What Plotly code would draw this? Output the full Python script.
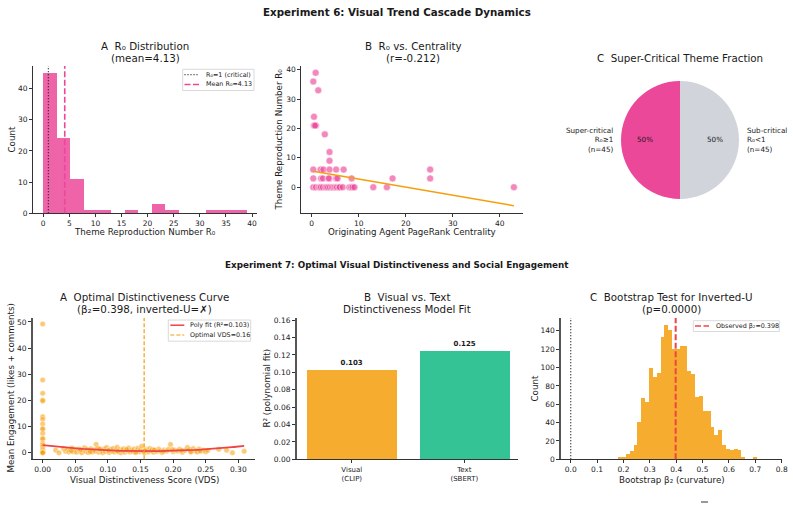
import numpy as np
import plotly.graph_objects as go

W, H = 793, 506
FONT = "DejaVu Sans"

# ---------------- data ----------------
# Panel 6A: R0 histogram (bin counts)
r0_bin_start = 0.0
r0_bin_width = 2.6
r0_bin_counts = [45, 24, 11, 1, 1, 0, 1, 0, 3, 1, 0, 0, 1, 1, 1]
r0_critical = 1.0
r0_mean = 4.13

# Panel 6B: centrality vs R0
cent_x = [0.85, 0.35, 1.4, 0.5, 0.5, 0.9, 0.7, 2.8, 3.8, 3.8,
          0.35, 1.9, 2.5, 3.8, 5.2, 6.8, 25.2,
          0.35, 2.0, 2.4, 3.8, 5.2, 5.5, 8.5, 17.2, 25.2, 3.6,
          0.35, 0.9, 1.5, 1.8, 2.0, 2.4, 2.9, 3.2, 3.5, 3.9, 4.3, 4.6, 4.9, 5.2,
          5.4, 5.8, 6.0, 6.6, 8.0, 8.4, 8.7, 9.1, 13.1, 16.0, 43.0]
cent_r0 = [39, 36, 33, 24, 21, 21, 21, 18, 12, 9,
           6, 6, 6, 6, 6, 6, 6,
           3, 3, 3, 3, 3, 3, 3, 3, 3, 3,
           0, 0, 0, 0, 0, 0, 0, 0, 0, 0, 0, 0, 0, 0,
           0, 0, 0, 0, 0, 0, 0, 0, 0, 0, 0]
fit_intercept = 5.5
fit_slope = -0.275
corr_r = -0.212

# Panel 6C: super-critical fraction
pie_labels = ["Super-critical", "Sub-critical"]
pie_conds = ["R₀≥1", "R₀<1"]
pie_counts = [45, 45]

# Panel 7A: VDS vs engagement
vds_x = [0.0] * 22 + [
    0.020, 0.025, 0.032, 0.035, 0.038, 0.040, 0.042, 0.045, 0.047, 0.050,
    0.052, 0.055, 0.057, 0.060, 0.062, 0.064, 0.066, 0.068, 0.070, 0.072,
    0.074, 0.076, 0.078, 0.080, 0.082, 0.084, 0.086, 0.088, 0.090, 0.092,
    0.094, 0.096, 0.098, 0.100, 0.102, 0.104, 0.106, 0.108, 0.110, 0.112,
    0.114, 0.116, 0.118, 0.120, 0.122, 0.124, 0.126, 0.128, 0.130, 0.132,
    0.134, 0.136, 0.138, 0.140, 0.142, 0.144, 0.146, 0.148, 0.150, 0.152,
    0.154, 0.156, 0.158, 0.160, 0.162, 0.164, 0.166, 0.168, 0.170, 0.172,
    0.175, 0.178, 0.180, 0.183, 0.186, 0.190, 0.193, 0.196, 0.200, 0.203,
    0.207, 0.210, 0.214, 0.218, 0.222, 0.225, 0.228, 0.231, 0.234, 0.237,
    0.240, 0.243, 0.246, 0.250, 0.253, 0.270, 0.282, 0.291, 0.309,
    0.044, 0.058, 0.073, 0.087, 0.101, 0.115, 0.129, 0.143, 0.157, 0.171,
    0.185, 0.199, 0.213, 0.227, 0.241]
vds_eng = [49.2, 27.8, 22.7, 20.2, 19.8, 13.8, 12.8, 11.0, 9.3, 9.0,
           7.4, 5.5, 5.3, 3.6, 3.0, 2.3, 1.5, 1.0, 0.5, 0.2, 0.0, 0.0] + [
    1.0, 0.0, 1.6, 0.6, 1.2, 0.3, 0.9, 1.8, 0.4, 1.1,
    0.2, 1.4, 0.7, 0.0, 1.0, 1.9, 0.5, 1.3, 0.1, 0.8,
    1.5, 0.3, 1.1, 0.6, 3.2, 1.7, 0.2, 1.2, 0.9, 0.0,
    1.4, 0.5, 2.0, 0.8, 0.1, 1.3, 0.6, 1.6, 0.3, 1.0,
    2.1, 0.4, 1.2, 0.0, 0.9, 1.5, 0.2, 1.1, 0.7, 1.8,
    0.3, 1.0, 0.5, 1.4, 0.1, 0.8, 1.7, 0.4, 1.1, 2.5,
    0.6, 0.0, 1.3, 0.9, 0.3, 1.6, 0.7, 1.2, 0.2, 1.0,
    0.5, 1.4, 0.8, 0.1, 1.1, 0.6, 1.3, 3.2, 0.4, 1.0,
    0.7, 1.3, 0.2, 0.9, 2.0, 1.2, 0.5, 1.6, 0.8, 0.3,
    1.4, 0.6, 1.0, 0.4, 0.9, 1.3, 1.0, 0.0, 0.6,
    0.7, 1.2, 0.4, 1.5, 0.9, 0.6, 1.3, 0.2, 0.8, 1.1,
    0.5, 1.2, 0.9, 0.3, 0.7]
poly_coef = [90.0, -28.8, 2.9]   # quadratic, highest power first
poly_r2 = 0.103
optimal_vds = 0.1556
beta2 = 0.398

# Panel 7B: model fit
model_names = ["Visual<br>(CLIP)", "Text<br>(SBERT)"]
model_r2 = [0.103, 0.125]

# Panel 7C: bootstrap distribution (bin counts)
boot_bin_start = 0.18
boot_bin_width = 0.0146
boot_counts = [2, 3, 6, 9, 16, 41, 67, 63, 100, 90, 94, 133, 146, 141, 120, 120,
               124, 124, 96, 93, 68, 69, 53, 53, 35, 26, 32, 16, 11, 10, 11, 10,
               2, 0, 0, 3]
p_value = 0.0

# ---------------- colours / sizes ----------------
PINK = "#EC4899"
PINK_A = "rgba(236,72,153,0.85)"
ORANGE = "#F59E0B"
ORANGE_A = "rgba(245,158,11,0.85)"
GREEN_A = "rgba(16,185,129,0.85)"
RED = "#EF4444"
GREY = "#D1D5DB"
TXT = "#1a1a1a"

SUP = 10.3
SUP2 = 8.8
TITLE = 10.3
LABEL = 8.7
TICK = 7.5
LEG = 6.4
SMALL = 7.2


def px_x(p):
    return p / W


def px_y(p):
    return 1 - p / H


fig = go.Figure()

# --- 6A histogram
r0_centers = [r0_bin_start + r0_bin_width * (i + 0.5) for i in range(len(r0_bin_counts))]
fig.add_trace(go.Bar(x=r0_centers, y=r0_bin_counts, width=r0_bin_width,
                     marker=dict(color=PINK_A, line=dict(width=0)),
                     xaxis="x", yaxis="y", showlegend=False))

# --- 6B scatter + fit
fig.add_trace(go.Scatter(x=cent_x, y=cent_r0, mode="markers",
                         marker=dict(size=7, color="rgba(236,72,153,0.65)",
                                     line=dict(color="rgba(255,255,255,0.9)", width=0.6)),
                         xaxis="x2", yaxis="y2", showlegend=False))
fx = np.array([min(cent_x), max(cent_x)])
fig.add_trace(go.Scatter(x=fx, y=fit_intercept + fit_slope * fx, mode="lines",
                         line=dict(color=ORANGE, width=1.5),
                         xaxis="x2", yaxis="y2", showlegend=False))

# --- 6C pie
pie_cx, pie_cy, pie_r = 680, 140, 59
fig.add_trace(go.Pie(values=pie_counts, labels=pie_labels, sort=False,
                     direction="clockwise", rotation=180,
                     marker=dict(colors=[PINK, GREY], line=dict(width=0)),
                     textinfo="none", hoverinfo="label+percent",
                     domain=dict(x=[px_x(pie_cx - pie_r), px_x(pie_cx + pie_r)],
                                 y=[px_y(pie_cy + pie_r), px_y(pie_cy - pie_r)]),
                     showlegend=False))

# --- 7A scatter + poly fit
fig.add_trace(go.Scatter(x=vds_x, y=vds_eng, mode="markers",
                         marker=dict(size=5.5, color="rgba(245,158,11,0.55)",
                                     line=dict(color="rgba(255,255,255,0.8)", width=0.5)),
                         xaxis="x3", yaxis="y3", showlegend=False))
px_curve = np.linspace(min(vds_x), max(vds_x), 100)
fig.add_trace(go.Scatter(x=px_curve, y=np.polyval(poly_coef, px_curve), mode="lines",
                         line=dict(color=RED, width=1.8),
                         xaxis="x3", yaxis="y3", showlegend=False))

# --- 7B bars
fig.add_trace(go.Bar(x=list(range(len(model_r2))), y=model_r2, width=0.8,
                     marker=dict(color=[ORANGE_A, GREEN_A], line=dict(width=0)),
                     texttemplate="<b>%{y:.3f}</b>", textposition="outside",
                     textfont=dict(size=7, color=TXT), cliponaxis=False,
                     xaxis="x4", yaxis="y4", showlegend=False))

# --- 7C bootstrap histogram
boot_centers = [boot_bin_start + boot_bin_width * (i + 0.5) for i in range(len(boot_counts))]
fig.add_trace(go.Bar(x=boot_centers, y=boot_counts, width=boot_bin_width,
                     marker=dict(color=ORANGE_A, line=dict(width=0)),
                     xaxis="x5", yaxis="y5", showlegend=False))

# --- reference lines
LINE_CRIT = dict(color="#222", width=1.3, dash="1px,2px")
LINE_MEAN = dict(color=PINK, width=1.6, dash="6px,2.5px")
LINE_POLY = dict(color=RED, width=1.8)
LINE_OPT = dict(color=ORANGE, width=1.2, dash="4px,2px")
LINE_OBS = dict(color=RED, width=2, dash="6px,2.5px")

shapes = []


def vline(xref, x, line):
    shapes.append(dict(type="line", xref=xref, yref=f"{xref.replace('x', 'y')} domain",
                       x0=x, x1=x, y0=0, y1=1, line=line, layer="above"))


vline("x", r0_critical, LINE_CRIT)
vline("x", r0_mean, LINE_MEAN)
vline("x3", optimal_vds, LINE_OPT)
vline("x5", 0, LINE_CRIT)
vline("x5", beta2, LINE_OBS)

# small mark at bottom edge
shapes.append(dict(type="line", xref="paper", yref="paper", x0=px_x(701), x1=px_x(708),
                   y0=px_y(502), y1=px_y(502), line=dict(color="#333", width=1)))


def axis(domain_px, rng, **kw):
    d = dict(domain=[px_x(domain_px[0]), px_x(domain_px[1])], range=rng,
             showline=True, linecolor="#333", linewidth=1, ticks="outside",
             ticklen=3, tickwidth=0.8, tickcolor="#333", showgrid=False,
             zeroline=False, automargin=False, tickfont=dict(size=TICK, color=TXT),
             fixedrange=True)
    d.update(kw)
    return d


def yaxis(domain_px, rng, anchor, **kw):
    d = dict(domain=[px_y(domain_px[1]), px_y(domain_px[0])], range=rng, anchor=anchor,
             showline=True, linecolor="#333", linewidth=1, ticks="outside",
             ticklen=3, tickwidth=0.8, tickcolor="#333", showgrid=False,
             zeroline=False, automargin=False, tickfont=dict(size=TICK, color=TXT),
             fixedrange=True)
    d.update(kw)
    return d


TOP = (66, 213.3)
BOT = (318, 459.3)

ann = []


def text(x, y, s, size, bold=False, **kw):
    d = dict(x=px_x(x), y=px_y(y), xref="paper", yref="paper", showarrow=False,
             text=f"<b>{s}</b>" if bold else s, font=dict(size=size, color=TXT, family=FONT),
             xanchor="center", yanchor="middle")
    d.update(kw)
    ann.append(d)


def legend_box(x0, y0, x1, y1, entries, row0, row_gap, sample_x0, sample_len, text_x):
    shapes.append(dict(type="rect", xref="paper", yref="paper",
                       x0=px_x(x0), x1=px_x(x1), y0=px_y(y1), y1=px_y(y0),
                       line=dict(color="#d0d0d0", width=0.8),
                       fillcolor="rgba(255,255,255,0.85)", layer="above"))
    for i, (label, line) in enumerate(entries):
        yy = row0 + i * row_gap
        ln = dict(line)
        ln["width"] = min(ln.get("width", 1.5), 1.5)
        shapes.append(dict(type="line", xref="paper", yref="paper",
                           x0=px_x(sample_x0), x1=px_x(sample_x0 + sample_len),
                           y0=px_y(yy), y1=px_y(yy), line=ln, layer="above"))
        text(text_x, yy, label, LEG, xanchor="left")


NB = "\u00a0"
# legends
legend_box(182.7, 69.3, 254, 90.5,
           [("R₀=1 (critical)", LINE_CRIT), (f"Mean R₀={r0_mean:.2f}", LINE_MEAN)],
           74.6, 9.8, 184.5, 15, 203.5)
legend_box(168.3, 320, 250.7, 341.2,
           [(f"Poly fit (R²={poly_r2:.3f})", LINE_POLY), (f"Optimal VDS={optimal_vds:.2f}", LINE_OPT)],
           325.2, 9.8, 170.3, 14, 188.3)
legend_box(693.3, 320.7, 779.3, 331.5,
           [(f"Observed β₂={beta2:.3f}", LINE_OBS)],
           326.1, 9.8, 695, 14, 713.5)

fig.update_layout(
    width=W, height=H, margin=dict(l=0, r=0, t=0, b=0),
    paper_bgcolor="white", plot_bgcolor="white",
    font=dict(family=FONT, color=TXT),
    bargap=0, showlegend=False,
    xaxis=axis((33, 257), [-1.95, 40.95], anchor="y", tickvals=list(range(0, 41, 5))),
    yaxis=yaxis(TOP, [0, 47.25], "x", tickvals=list(range(0, 41, 10))),
    xaxis2=axis((301.3, 523.3), [-2.2, 45.0], anchor="y2", tickvals=list(range(0, 41, 10))),
    yaxis2=yaxis(TOP, [-8.9, 41.3], "x2", tickvals=list(range(0, 41, 10))),
    xaxis3=axis((32.7, 255), [-0.0153, 0.3256], anchor="y3",
                tickvals=[0, 0.05, 0.10, 0.15, 0.20, 0.25, 0.30], tickformat=".2f"),
    yaxis3=yaxis(BOT, [-2.5, 51.5], "x3", tickvals=list(range(0, 51, 10)),
                 linecolor="#555", linewidth=1.5),
    xaxis4=axis((296.7, 518.3), [-0.49, 1.48], anchor="y4",
                tickvals=list(range(len(model_names))), ticktext=model_names,
                tickfont=dict(size=7, color=TXT)),
    yaxis4=yaxis(BOT, [0, 0.1625], "x4", tickvals=[0, 0.02, 0.04, 0.06, 0.08, 0.10, 0.12, 0.14, 0.16],
                 tickformat=".2f", linecolor="#555", linewidth=1.5),
    xaxis5=axis((561, 782.3), [-0.0368, 0.8023], anchor="y5",
                tickvals=[0, 0.1, 0.2, 0.3, 0.4, 0.5, 0.6, 0.7, 0.8], tickformat=".1f"),
    yaxis5=yaxis(BOT, [0, 154], "x5", tickvals=list(range(0, 141, 20)),
                 linecolor="#555", linewidth=1.5),
)

# super titles
text(396.5, 12, "Experiment 6: Visual Trend Cascade Dynamics", SUP, bold=True)
text(397, 265, "Experiment 7: Optimal Visual Distinctiveness and Social Engagement", SUP2, bold=True)

# panel titles
text(145, 45.5, f"A{NB} R₀ Distribution", TITLE)
text(145, 57.5, f"(mean={r0_mean:.2f})", TITLE)
text(413, 45.5, f"B{NB} R₀ vs. Centrality", TITLE)
text(413, 57.5, f"(r={corr_r:.3f})", TITLE)
text(680, 57.7, f"C{NB} Super-Critical Theme Fraction", TITLE)
inv_u = "✓" if beta2 < 0 else "✗"
text(144, 297.3, f"A{NB} Optimal Distinctiveness Curve", TITLE)
text(144, 309.3, f"(β₂={beta2:.3f}, inverted-U={inv_u})", TITLE)
text(407, 297.3, f"B{NB} Visual vs. Text", TITLE)
text(407, 309.3, "Distinctiveness Model Fit", TITLE)
text(671.5, 297.3, f"C{NB} Bootstrap Test for Inverted-U", TITLE)
text(671.5, 309.3, f"(p={p_value:.4f})", TITLE)

# axis titles
text(145, 232, "Theme Reproduction Number R₀", LABEL)
text(11, 139.5, "Count", LABEL, textangle=-90)
text(412, 232, "Originating Agent PageRank Centrality", LABEL)
text(278, 139.5, "Theme Reproduction Number R₀", LABEL, textangle=-90)
text(144, 479.5, "Visual Distinctiveness Score (VDS)", LABEL)
text(10, 388.5, "Mean Engagement (likes + comments)", LABEL, textangle=-90)
text(266, 388.5, "R² (polynomial fit)", LABEL, textangle=-90)
text(534, 388.5, "Count", LABEL, textangle=-90)
text(671.5, 479.5, "Bootstrap β₂ (curvature)", LABEL)

# pie labels, placed from slice angles (start at top, counter-clockwise)
total = sum(pie_counts)
start = 90.0
for lab, cond, n in zip(pie_labels, pie_conds, pie_counts):
    span = 360.0 * n / total
    mid = np.deg2rad(start + span / 2)
    start += span
    c, s = np.cos(mid), np.sin(mid)
    lx, ly = pie_cx + 1.1 * pie_r * c, pie_cy - 1.1 * pie_r * s
    text(lx, ly, f"{lab}<br>{cond}<br>(n={n})", SMALL,
         xanchor="right" if c < 0 else "left", align="right" if c < 0 else "left")
    tx, ty = pie_cx + 0.6 * pie_r * c, pie_cy - 0.6 * pie_r * s
    text(tx, ty, f"{100.0 * n / total:.0f}%", SMALL)

fig.update_layout(annotations=ann, shapes=shapes)

fig.write_html("out.html")
